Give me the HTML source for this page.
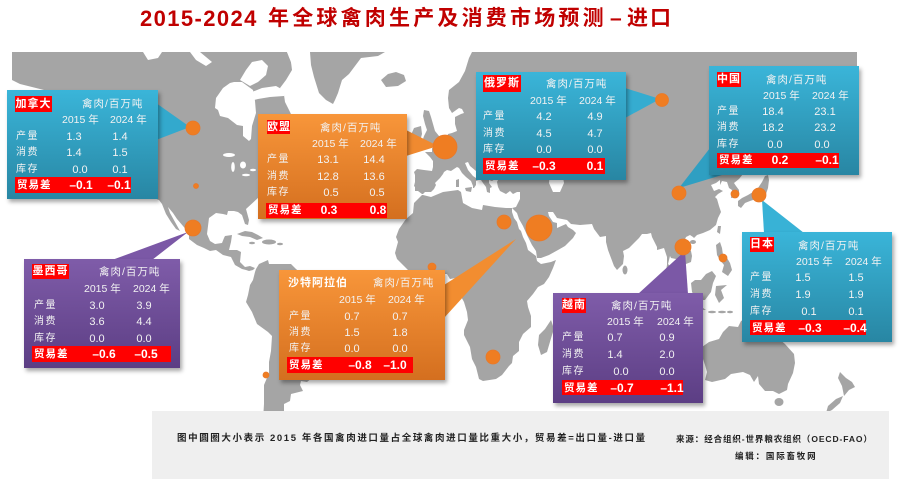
<!DOCTYPE html>
<html><head><meta charset="utf-8">
<style>
html,body{margin:0;padding:0;background:#fff;}
body{width:900px;height:479px;position:relative;overflow:hidden;font-family:"Liberation Sans","Noto Sans CJK SC",sans-serif;}
.box{position:absolute;box-shadow:2px 3px 4px rgba(0,0,0,.35);}
.blue{background:linear-gradient(#3ab5d9,#2886a3);}
.orange{background:linear-gradient(#f8963a,#d46f1f);}
.purple{background:linear-gradient(#7f5ca9,#5c3e84);}
.t{position:absolute;white-space:nowrap;line-height:12px;color:#f2f2f2;font-size:10.5px;}
.h{letter-spacing:1px;}
.r{font-size:10px;letter-spacing:1.5px;}
.v{position:absolute;width:40px;text-align:center;line-height:12px;font-size:11px;color:#f2f2f2;white-space:nowrap;}
.bv{position:absolute;width:40px;text-align:center;line-height:12px;font-size:12px;font-weight:bold;color:#fff;white-space:nowrap;}
.lbl{position:absolute;background:#ff0000;color:#fff;font-weight:bold;font-size:11px;text-align:center;letter-spacing:1px;white-space:nowrap;}
.band{position:absolute;background:#ff0000;}
.bl{position:absolute;color:#fff;font-weight:bold;font-size:10.5px;letter-spacing:1px;line-height:12px;white-space:nowrap;}
.title{position:absolute;top:6px;color:#c00000;font-weight:bold;white-space:nowrap;line-height:26px;}
.foot{position:absolute;white-space:nowrap;color:#222;font-weight:bold;line-height:12px;}
</style></head>
<body>
<svg width="900" height="479" style="position:absolute;left:0;top:0">
<g fill="#a5a5a5">
<polygon points="12,52 287,52 291,62 292,70 286,80 280,88 284,95 285,102 290,112 296,125 300,140 285,165 272,173 263,180 259,197 246,209 249,220 248,225 245,224 243,218 242,215 238,212 234,211 228,211 227,215 223,214 216,213 209,218 208,226 207,234 210,241 215,244 222,243 224,238 225,236 232,235 231,242 229,250 237,250 241,252 240,262 245,267 250,266 255,268 253,270 249,271 246,270 242,269 235,265 231,257 223,255 216,250 210,251 204,248 197,245 189,239 189,233 183,226 177,219 173,213 168,207 170,213 175,222 180,231 176,229 171,222 166,214 162,204 159,200 154,198 149,190 145,180 146,161 136,140 120,118 100,104 80,110 60,112 50,100 44,90 20,84 12,80"/>
<polygon points="310,52 385,52 378,56 361,58 349,74 342,80 338,93 335,100 333,104 326,100 319,93 314,77 311,65"/>
<polygon points="381,80 388,74 396,72 404,75 406,81 398,86 386,87"/>
<polygon points="256,269 259,264 268,260 269,264 277,264 291,264 296,269 303,275 314,277 319,286 324,292 333,296 346,299 354,303 354,312 346,323 345,334 341,343 338,349 331,351 323,358 321,365 317,372 312,378 307,382 301,381 300,385 303,391 291,394 290,401 284,404 284,420 263,420 264,404 264,385 269,373 269,362 271,351 272,336 268,332 257,324 252,312 246,302 248,295 249,290 250,285 253,280 255,272"/>
<polygon points="237,234 245,231 252,232 258,235 263,238 257,240 250,237 242,236"/>
<ellipse cx="269" cy="242" rx="7" ry="2.5"/>
<ellipse cx="280" cy="244" rx="3" ry="1.3"/>
<ellipse cx="252" cy="243" rx="3" ry="1.2"/>
<polygon points="422,195 414,203 413,213 406,219 399,229 396,237 398,242 395,253 397,259 404,266 410,272 418,279 431,278 441,274 447,274 450,279 456,278 459,284 458,291 464,302 467,312 468,320 464,330 464,335 470,347 472,359 476,367 479,379 483,381 496,379 502,375 509,366 512,363 513,356 519,351 519,342 523,334 531,327 531,316 528,307 527,301 533,294 538,287 544,284 549,277 553,268 556,260 551,262 541,264 537,261 536,256 532,253 528,250 526,243 523,237 521,231 519,229 517,222 514,218 512,212 512,208 506,208 495,207 483,205 482,210 472,208 463,203 461,192 458,190 443,192 431,197 423,195"/>
<polygon points="551,320 554,329 552,335 547,352 541,355 538,345 539,335 545,329"/>
<polygon points="512,208 516,207 518,203 520,199 520,194 520,192 517,192 513,194 510,191 506,194 502,192 500,191 498,187 497,182 498,180 497,178 492,181 489,180 489,183 492,187 490,188 490,193 487,192 486,187 483,183 481,180 480,175 476,171 470,166 468,162 465,163 468,170 473,176 479,180 476,181 476,185 474,188 473,188 473,186 471,181 466,177 462,173 459,168 457,167 454,169 451,171 447,170 444,172 443,174 440,178 438,180 435,183 436,185 434,189 431,192 425,192 423,194 422,194 418,191 415,191 415,187 414,186 415,182 415,175 414,172 417,169 424,170 432,171 433,167 433,161 430,157 425,152 432,152 432,148 436,149 440,147 440,144 444,142 447,138 448,134 452,133 457,131 455,124 455,117 461,114 464,113 462,109 459,108 452,113 449,108 448,98 449,90 459,82 465,71 469,58 472,52 857,52 857,77 855,79 850,90 841,95 834,103 820,103 817,113 816,120 810,128 807,135 802,143 801,115 810,95 803,94 799,107 792,108 783,107 768,107 760,120 753,128 757,131 766,135 765,139 765,152 759,159 753,168 747,172 743,174 739,179 734,183 736,186 739,190 739,194 737,197 731,198 732,190 729,188 727,182 722,181 720,185 720,180 716,183 711,185 712,187 714,191 719,189 723,191 718,194 715,197 717,199 719,206 721,212 718,218 716,225 710,230 703,233 697,235 694,238 693,237 690,235 686,237 684,242 685,246 691,251 692,256 691,262 686,264 683,268 681,264 676,259 671,258 670,256 668,264 670,266 671,271 676,275 678,280 680,286 678,286 672,282 671,275 666,270 667,265 667,257 664,248 657,250 657,247 652,237 651,233 647,234 642,234 639,238 634,243 629,248 623,251 624,256 623,264 619,268 617,270 614,266 611,258 608,250 606,242 606,236 600,237 597,233 594,229 592,224 580,225 571,224 567,220 557,218 553,212 548,212 549,216 553,222 557,223 557,228 566,224 568,227 573,230 576,233 573,238 569,242 565,246 558,250 549,255 541,258 537,258 536,251 532,245 527,235 523,226 519,219 517,213"/>
<polygon points="424,148 432,147 440,145 441,140 439,136 435,131 433,124 431,117 429,111 424,110 423,116 425,124 427,130 424,136 421,145"/>
<polygon points="414,128 421,126 422,134 420,141 413,142 411,135"/>
<polygon points="465,188 472,187 471,192 466,191"/>
<polygon points="456,180 459,179 459,187 456,187"/>
<ellipse cx="625" cy="270" rx="2.5" ry="4.5"/>
<polygon points="718,226 721,226 720,234 717,232"/>
<ellipse cx="693" cy="242" rx="3" ry="2"/>
<polygon points="738,201 742,198 748,195 753,192 758,188 762,182 765,176 768,175 769,180 768,188 766,194 762,197 756,199 750,201 745,203 741,208 738,206"/>
<polygon points="765,172 768,165 772,162 778,167 775,171 768,174"/>
<polygon points="716,245 720,242 722,248 723,255 727,258 730,263 732,270 728,276 722,272 724,265 720,260 717,255"/>
<polygon points="691,283 695,280 701,280 706,274 712,271 716,276 713,283 711,292 705,300 697,300 692,292"/>
<polygon points="659,276 664,275 672,283 680,292 684,300 682,305 675,303 667,293 660,283"/>
<polygon points="684,304 700,306 706,310 690,309"/>
<polygon points="716,286 727,285 721,290 724,298 719,303 715,295"/>
<ellipse cx="712" cy="312" rx="4" ry="1.2"/>
<ellipse cx="722" cy="312" rx="4" ry="1.2"/>
<ellipse cx="730" cy="312" rx="3" ry="1.2"/>
<polygon points="742,292 752,290 770,298 788,305 790,316 775,312 760,304 745,298"/>
<polygon points="769,317 772,324 776,327 778,338 785,344 794,354 795,363 793,373 788,384 787,390 779,394 773,391 765,391 759,384 758,376 754,382 750,375 743,372 731,374 725,379 712,382 705,380 707,372 705,365 702,356 702,347 709,342 719,339 723,332 729,326 738,327 741,321 747,318 755,320 754,329 762,334 767,322"/>
<ellipse cx="779" cy="402" rx="4.5" ry="4"/>
<polygon points="840,372 846,378 852,382 855,387 849,390 844,396 842,386 838,378"/>
<polygon points="843,396 840,403 832,410 826,413 828,406 836,399"/>
</g>
<g fill="#ffffff">
<polygon points="215,108 218,110 220,116 228,118 237,125 243,126 243,136 249,141 251,139 252,126 256,113 255,101 253,90 242,82 234,82 230,83 223,88 216,98"/>
<polygon points="252,92 262,88 276,86 285,91 284,96 270,97 258,99 254,100"/>
<polygon points="240,80 246,70 252,62 262,60 268,66 266,75 258,82 250,86"/>
<polygon points="143,52 162,52 158,58 148,60"/>
<polygon points="190,52 200,52 212,62 206,66 196,60"/>
<polygon points="287,52 308,52 306,62 300,75 293,70 291,62"/>
<polygon points="500,172 503,164 510,162 512,168 520,163 528,160 533,168 532,176 522,177 513,178 505,178"/>
<polygon points="547,158 552,155 557,162 562,172 564,183 560,192 553,192 549,183 550,172 545,165"/>
<ellipse cx="229" cy="155" rx="6" ry="2"/>
<ellipse cx="233" cy="167" rx="1.8" ry="5"/>
<ellipse cx="243" cy="165" rx="3" ry="3.5"/>
<ellipse cx="246" cy="175" rx="4" ry="1.2"/>
<ellipse cx="253" cy="170" rx="3" ry="1.2"/>
</g>
<!-- pointers -->
<polygon points="156,103 190,127 156,140" fill="#33a9cd"/>
<polygon points="406,130 438,146 406,156" fill="#f08a30"/>
<polygon points="625,88 660,99 625,118" fill="#35acd0"/>
<polygon points="710,148 679,188 722,175" fill="#2f9fc2"/>
<polygon points="762,200 764,233 804,233" fill="#38b2d6"/>
<polygon points="638,294 685,251 688,294" fill="#7b58a6"/>
<polygon points="112,260 188,232 152,260" fill="#7b58a6"/>
<polygon points="444,285 516,239 444,318" fill="#f28d30"/>
<!-- circles -->
<g fill="#ef7d22" stroke="#e8792a" stroke-width="0.8">
<circle cx="193" cy="128" r="7"/>
<circle cx="196" cy="186" r="2.5"/>
<circle cx="193" cy="228" r="8"/>
<circle cx="266" cy="375" r="3"/>
<circle cx="445" cy="147" r="12"/>
<circle cx="504" cy="222" r="7"/>
<circle cx="539" cy="228" r="13"/>
<circle cx="432" cy="267" r="4"/>
<circle cx="493" cy="357" r="7"/>
<circle cx="662" cy="100" r="6.5"/>
<circle cx="679" cy="193" r="7"/>
<circle cx="735" cy="194" r="4"/>
<circle cx="759" cy="195" r="7"/>
<circle cx="683" cy="247" r="8"/>
<circle cx="723" cy="258" r="4"/>
</g>
</svg>

<!-- Title -->
<div class="title" style="left:140px;font-size:22px;letter-spacing:1.4px;">2015-2024</div>
<div class="title" style="left:268px;font-size:21px;letter-spacing:3.2px;">年全球禽肉生产及消费市场预测</div>
<div class="title" style="left:610px;font-size:21px;">–</div>
<div class="title" style="left:627px;font-size:21px;letter-spacing:2px;">进口</div>

<!-- Boxes -->
<div class="box blue" style="left:7px;top:90px;width:151px;height:109px;"></div>
<div class="box orange" style="left:258px;top:114px;width:149px;height:105px;"></div>
<div class="box blue" style="left:476px;top:72px;width:150px;height:108px;"></div>
<div class="box blue" style="left:709px;top:66px;width:150px;height:109px;"></div>
<div class="box blue" style="left:742px;top:232px;width:150px;height:110px;"></div>
<div class="box purple" style="left:553px;top:293px;width:150px;height:110px;"></div>
<div class="box purple" style="left:24px;top:259px;width:156px;height:109px;"></div>
<div class="box orange" style="left:279px;top:270px;width:166px;height:110px;"></div>

<!-- Canada -->
<div class="lbl" style="left:15px;top:96px;width:37px;height:16px;line-height:16px;">加拿大</div>
<div class="t h" style="left:82px;top:98px;">禽肉/百万吨</div>
<div class="t" style="left:62px;top:114px;">2015 年</div>
<div class="t" style="left:110px;top:114px;">2024 年</div>
<div class="t r" style="left:16px;top:131px;">产量</div>
<div class="t r" style="left:16px;top:147px;">消费</div>
<div class="t r" style="left:16px;top:164px;">库存</div>
<div class="v" style="left:54px;top:131px;">1.3</div><div class="v" style="left:100px;top:131px;">1.4</div>
<div class="v" style="left:54px;top:147px;">1.4</div><div class="v" style="left:100px;top:147px;">1.5</div>
<div class="v" style="left:60px;top:164px;">0.0</div><div class="v" style="left:100px;top:164px;">0.1</div>
<div class="band" style="left:15px;top:177px;width:116px;height:16px;"></div>
<div class="bl" style="left:17px;top:179px;">贸易差</div>
<div class="bv" style="left:61px;top:179px;">–0.1</div><div class="bv" style="left:99px;top:179px;">–0.1</div>

<!-- EU -->
<div class="lbl" style="left:267px;top:120px;width:23px;height:14px;line-height:14px;">欧盟</div>
<div class="t h" style="left:320px;top:122px;">禽肉/百万吨</div>
<div class="t" style="left:312px;top:138px;">2015 年</div>
<div class="t" style="left:360px;top:138px;">2024 年</div>
<div class="t r" style="left:267px;top:154px;">产量</div>
<div class="t r" style="left:267px;top:171px;">消费</div>
<div class="t r" style="left:267px;top:187px;">库存</div>
<div class="v" style="left:308px;top:154px;">13.1</div><div class="v" style="left:354px;top:154px;">14.4</div>
<div class="v" style="left:308px;top:171px;">12.8</div><div class="v" style="left:354px;top:171px;">13.6</div>
<div class="v" style="left:311px;top:187px;">0.5</div><div class="v" style="left:357px;top:187px;">0.5</div>
<div class="band" style="left:266px;top:203px;width:121px;height:15px;"></div>
<div class="bl" style="left:268px;top:204px;">贸易差</div>
<div class="bv" style="left:309px;top:204px;">0.3</div><div class="bv" style="left:358px;top:204px;">0.8</div>

<!-- Russia -->
<div class="lbl" style="left:483px;top:75px;width:38px;height:17px;line-height:17px;">俄罗斯</div>
<div class="t h" style="left:546px;top:78px;">禽肉/百万吨</div>
<div class="t" style="left:530px;top:95px;">2015 年</div>
<div class="t" style="left:579px;top:95px;">2024 年</div>
<div class="t r" style="left:483px;top:111px;">产量</div>
<div class="t r" style="left:483px;top:128px;">消费</div>
<div class="t r" style="left:483px;top:144px;">库存</div>
<div class="v" style="left:524px;top:111px;">4.2</div><div class="v" style="left:575px;top:111px;">4.9</div>
<div class="v" style="left:524px;top:128px;">4.5</div><div class="v" style="left:575px;top:128px;">4.7</div>
<div class="v" style="left:524px;top:144px;">0.0</div><div class="v" style="left:575px;top:144px;">0.0</div>
<div class="band" style="left:483px;top:158px;width:122px;height:16px;"></div>
<div class="bl" style="left:485px;top:160px;">贸易差</div>
<div class="bv" style="left:524px;top:160px;">–0.3</div><div class="bv" style="left:575px;top:160px;">0.1</div>

<!-- China -->
<div class="lbl" style="left:717px;top:72px;width:24px;height:15px;line-height:15px;">中国</div>
<div class="t h" style="left:766px;top:74px;">禽肉/百万吨</div>
<div class="t" style="left:763px;top:90px;">2015 年</div>
<div class="t" style="left:812px;top:90px;">2024 年</div>
<div class="t r" style="left:717px;top:106px;">产量</div>
<div class="t r" style="left:717px;top:122px;">消费</div>
<div class="t r" style="left:717px;top:139px;">库存</div>
<div class="v" style="left:753px;top:106px;">18.4</div><div class="v" style="left:805px;top:106px;">23.1</div>
<div class="v" style="left:753px;top:122px;">18.2</div><div class="v" style="left:805px;top:122px;">23.2</div>
<div class="v" style="left:755px;top:139px;">0.0</div><div class="v" style="left:802px;top:139px;">0.0</div>
<div class="band" style="left:717px;top:153px;width:122px;height:15px;"></div>
<div class="bl" style="left:719px;top:154px;">贸易差</div>
<div class="bv" style="left:760px;top:154px;">0.2</div><div class="bv" style="left:807px;top:154px;">–0.1</div>

<!-- Japan -->
<div class="lbl" style="left:750px;top:237px;width:24px;height:15px;line-height:15px;">日本</div>
<div class="t h" style="left:798px;top:240px;">禽肉/百万吨</div>
<div class="t" style="left:796px;top:256px;">2015 年</div>
<div class="t" style="left:845px;top:256px;">2024 年</div>
<div class="t r" style="left:750px;top:272px;">产量</div>
<div class="t r" style="left:750px;top:289px;">消费</div>
<div class="t r" style="left:750px;top:306px;">库存</div>
<div class="v" style="left:783px;top:272px;">1.5</div><div class="v" style="left:836px;top:272px;">1.5</div>
<div class="v" style="left:783px;top:289px;">1.9</div><div class="v" style="left:836px;top:289px;">1.9</div>
<div class="v" style="left:789px;top:306px;">0.1</div><div class="v" style="left:836px;top:306px;">0.1</div>
<div class="band" style="left:750px;top:320px;width:116px;height:15px;"></div>
<div class="bl" style="left:752px;top:322px;">贸易差</div>
<div class="bv" style="left:790px;top:322px;">–0.3</div><div class="bv" style="left:835px;top:322px;">–0.4</div>

<!-- Vietnam -->
<div class="lbl" style="left:562px;top:298px;width:24px;height:15px;line-height:15px;">越南</div>
<div class="t h" style="left:611px;top:300px;">禽肉/百万吨</div>
<div class="t" style="left:607px;top:316px;">2015 年</div>
<div class="t" style="left:657px;top:316px;">2024 年</div>
<div class="t r" style="left:562px;top:332px;">产量</div>
<div class="t r" style="left:562px;top:349px;">消费</div>
<div class="t r" style="left:562px;top:366px;">库存</div>
<div class="v" style="left:595px;top:332px;">0.7</div><div class="v" style="left:647px;top:332px;">0.9</div>
<div class="v" style="left:595px;top:349px;">1.4</div><div class="v" style="left:647px;top:349px;">2.0</div>
<div class="v" style="left:601px;top:366px;">0.0</div><div class="v" style="left:647px;top:366px;">0.0</div>
<div class="band" style="left:562px;top:380px;width:121px;height:15px;"></div>
<div class="bl" style="left:564px;top:382px;">贸易差</div>
<div class="bv" style="left:602px;top:382px;">–0.7</div><div class="bv" style="left:652px;top:382px;">–1.1</div>

<!-- Mexico -->
<div class="lbl" style="left:32px;top:264px;width:37px;height:15px;line-height:15px;">墨西哥</div>
<div class="t h" style="left:99px;top:266px;">禽肉/百万吨</div>
<div class="t" style="left:84px;top:283px;">2015 年</div>
<div class="t" style="left:133px;top:283px;">2024 年</div>
<div class="t r" style="left:34px;top:300px;">产量</div>
<div class="t r" style="left:34px;top:316px;">消费</div>
<div class="t r" style="left:34px;top:333px;">库存</div>
<div class="v" style="left:77px;top:300px;">3.0</div><div class="v" style="left:124px;top:300px;">3.9</div>
<div class="v" style="left:77px;top:316px;">3.6</div><div class="v" style="left:124px;top:316px;">4.4</div>
<div class="v" style="left:77px;top:333px;">0.0</div><div class="v" style="left:124px;top:333px;">0.0</div>
<div class="band" style="left:32px;top:346px;width:139px;height:16px;"></div>
<div class="bl" style="left:34px;top:348px;">贸易差</div>
<div class="bv" style="left:84px;top:348px;">–0.6</div><div class="bv" style="left:126px;top:348px;">–0.5</div>

<!-- Saudi -->
<div class="bl" style="left:288px;top:277px;font-size:11px;">沙特阿拉伯</div>
<div class="t h" style="left:373px;top:277px;">禽肉/百万吨</div>
<div class="t" style="left:339px;top:294px;">2015 年</div>
<div class="t" style="left:388px;top:294px;">2024 年</div>
<div class="t r" style="left:289px;top:311px;">产量</div>
<div class="t r" style="left:289px;top:327px;">消费</div>
<div class="t r" style="left:289px;top:343px;">库存</div>
<div class="v" style="left:332px;top:311px;">0.7</div><div class="v" style="left:380px;top:311px;">0.7</div>
<div class="v" style="left:332px;top:327px;">1.5</div><div class="v" style="left:380px;top:327px;">1.8</div>
<div class="v" style="left:332px;top:343px;">0.0</div><div class="v" style="left:380px;top:343px;">0.0</div>
<div class="band" style="left:287px;top:357px;width:126px;height:16px;"></div>
<div class="bl" style="left:289px;top:359px;">贸易差</div>
<div class="bv" style="left:340px;top:359px;">–0.8</div><div class="bv" style="left:375px;top:359px;">–1.0</div>

<!-- Footer -->
<div style="position:absolute;left:152px;top:411px;width:737px;height:68px;background:#efefef;"></div>
<div class="foot" style="left:177px;top:433px;font-size:9.5px;letter-spacing:1.6px;">图中圆圈大小表示 2015 年各国禽肉进口量占全球禽肉进口量比重大小，贸易差=出口量-进口量</div>
<div class="foot" style="left:676px;top:433px;font-size:8.5px;letter-spacing:0.9px;">来源：经合组织-世界粮农组织（OECD-FAO）</div>
<div class="foot" style="left:735px;top:450px;font-size:8.5px;letter-spacing:1.8px;">编辑：国际畜牧网</div>
</body></html>
